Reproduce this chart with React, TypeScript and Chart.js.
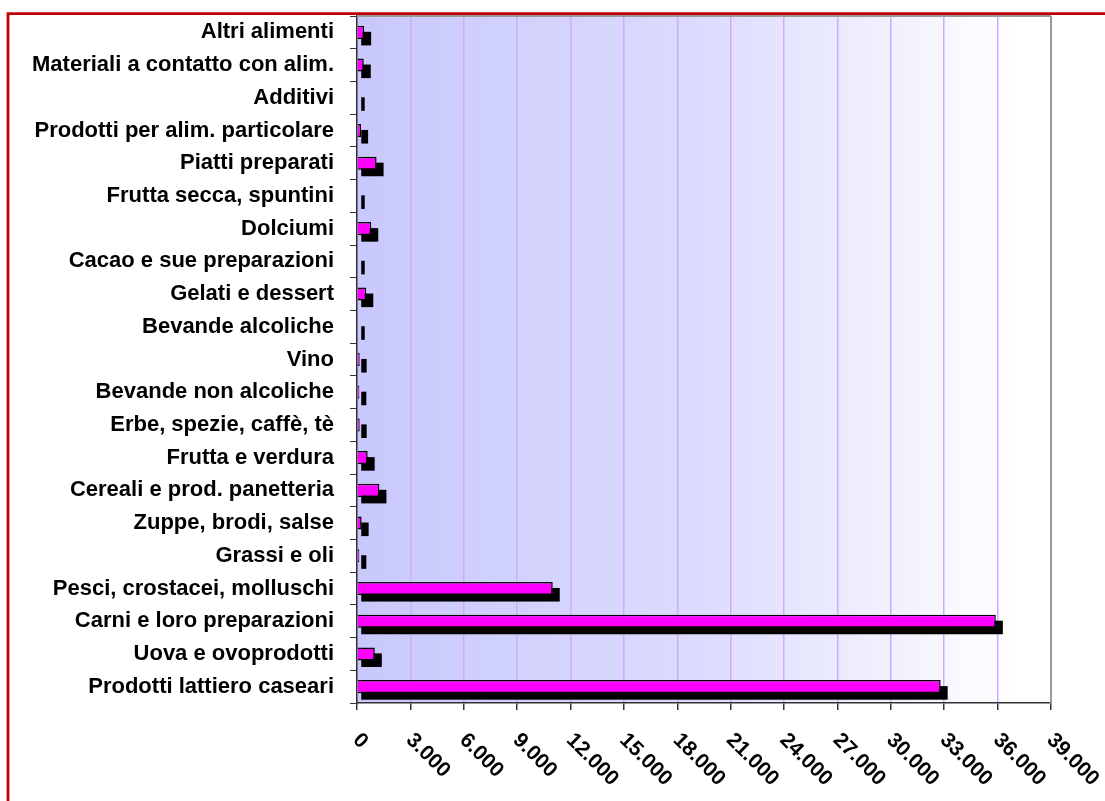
import React, { useEffect, useRef } from 'react';
import { Chart, registerables } from 'chart.js';

Chart.register(...registerables);

const categories = [
  'Altri alimenti',
  'Materiali a contatto con alim.',
  'Additivi',
  'Prodotti per alim. particolare',
  'Piatti preparati',
  'Frutta secca, spuntini',
  'Dolciumi',
  'Cacao e sue preparazioni',
  'Gelati e dessert',
  'Bevande alcoliche',
  'Vino',
  'Bevande non alcoliche',
  'Erbe, spezie, caffè, tè',
  'Frutta e verdura',
  'Cereali e prod. panetteria',
  'Zuppe, brodi, salse',
  'Grassi e oli',
  'Pesci, crostacei, molluschi',
  'Carni e loro preparazioni',
  'Uova e ovoprodotti',
  'Prodotti lattiero caseari',
];

const values = [
  400, 380, 40, 230, 1100, 40, 800, 40, 520, 40, 150, 130, 150, 600, 1260, 260, 130,
  11000, 35900, 1000, 32800,
];

const xTickValues = [0, 3000, 6000, 9000, 12000, 15000, 18000, 21000, 24000, 27000, 30000, 33000, 36000, 39000];

const fmt = (v: number) => String(v).replace(/\B(?=(\d{3})+(?!\d))/g, '.');

export default function App() {
  const ref = useRef<HTMLCanvasElement>(null);

  useEffect(() => {
    if (!ref.current) return;

    const bgPlugin = {
      id: 'bgGradient',
      beforeDraw(chart: any) {
        const { ctx, chartArea: a } = chart;
        const g = ctx.createLinearGradient(a.left, 0, a.right, 0);
        g.addColorStop(0, '#c8c8fc');
        g.addColorStop(0.5, '#dcdcfe');
        g.addColorStop(0.95, '#ffffff');
        g.addColorStop(1, '#ffffff');
        ctx.save();
        ctx.fillStyle = '#ffffff';
        ctx.fillRect(0, 0, chart.width, chart.height);
        ctx.fillStyle = g;
        ctx.fillRect(a.left, a.top, a.right - a.left, a.bottom - a.top);
        ctx.restore();
      },
    };

    const shadowPlugin = {
      id: 'barShadow',
      beforeDatasetsDraw(chart: any) {
        const { ctx } = chart;
        const meta = chart.getDatasetMeta(0);
        ctx.save();
        ctx.fillStyle = '#000000';
        meta.data.forEach((el: any) => {
          const h = el.height;
          const l = el.base + 3.5;
          const r = el.x + 7;
          const t = el.y - h / 2 + 6;
          const b = el.y + h / 2 + 6.5;
          ctx.fillRect(l, t, Math.max(r - l, 2), b - t);
        });
        ctx.restore();
      },
    };

    const framePlugin = {
      id: 'frame',
      afterDraw(chart: any) {
        const { ctx, chartArea: a } = chart;
        const xs = chart.scales.x;
        ctx.save();
        // plot top & right border
        ctx.strokeStyle = '#999999';
        ctx.lineWidth = 2;
        ctx.beginPath();
        ctx.moveTo(a.left, a.top);
        ctx.lineTo(a.right, a.top);
        ctx.moveTo(a.right, a.top);
        ctx.lineTo(a.right, a.bottom);
        ctx.stroke();
        // red outer border
        ctx.strokeStyle = '#c00000';
        ctx.lineWidth = 2.8;
        ctx.beginPath();
        ctx.moveTo(8, chart.height);
        ctx.lineTo(8, 13.7);
        ctx.lineTo(chart.width, 13.7);
        ctx.stroke();
        // rotated x tick labels
        ctx.fillStyle = '#000000';
        ctx.font = 'bold 21px "Liberation Sans", Arial, sans-serif';
        ctx.textAlign = 'left';
        ctx.textBaseline = 'middle';
        xTickValues.forEach((v) => {
          const px = xs.getPixelForValue(v);
          ctx.save();
          ctx.translate(px - 1, 737);
          ctx.rotate(Math.PI / 4);
          ctx.fillText(fmt(v), 0, 0);
          ctx.restore();
        });
        ctx.restore();
      },
    };

    const chart = new Chart(ref.current, {
      type: 'bar',
      data: {
        labels: categories,
        datasets: [
          {
            data: values,
            backgroundColor: '#ff00ff',
            borderColor: '#000000',
            borderWidth: 1.5,
            barPercentage: 0.4,
            categoryPercentage: 1,
          },
        ],
      },
      options: {
        indexAxis: 'y',
        responsive: false,
        animation: false,
        layout: { padding: { top: 16, right: 54, left: 0, bottom: 0 } },
        plugins: { legend: { display: false }, tooltip: { enabled: false } },
        scales: {
          x: {
            min: 0,
            max: 39000,
            ticks: { stepSize: 3000, display: false },
            grid: { color: '#d4a8ff', lineWidth: 1.5, tickColor: '#333333', tickLength: 7, drawTicks: true },
            border: { color: '#333333', width: 1.5 },
            afterFit(s: any) {
              s.height = 98;
              s.paddingLeft = 0;
              s.paddingRight = 0;
            },
          },
          y: {
            grid: { drawOnChartArea: false, tickColor: '#333333', tickLength: 7, offset: true },
            border: { color: '#333333', width: 1.5 },
            ticks: {
              color: '#000000',
              autoSkip: false,
              padding: 16,
              font: { family: '"Liberation Sans", Arial, sans-serif', size: 22, weight: 'bold' },
            },
            afterFit(s: any) {
              s.width = 357;
              s.paddingTop = 0;
              s.paddingBottom = 0;
            },
          },
        },
      },
      plugins: [bgPlugin, shadowPlugin, framePlugin],
    } as any);

    return () => chart.destroy();
  }, []);

  return (
    <div style={{ position: 'fixed', left: 0, top: 0, width: 1105, height: 801, background: '#fff' }}>
      <canvas ref={ref} width={1105} height={801} style={{ display: 'block', width: 1105, height: 801 }} />
    </div>
  );
}
